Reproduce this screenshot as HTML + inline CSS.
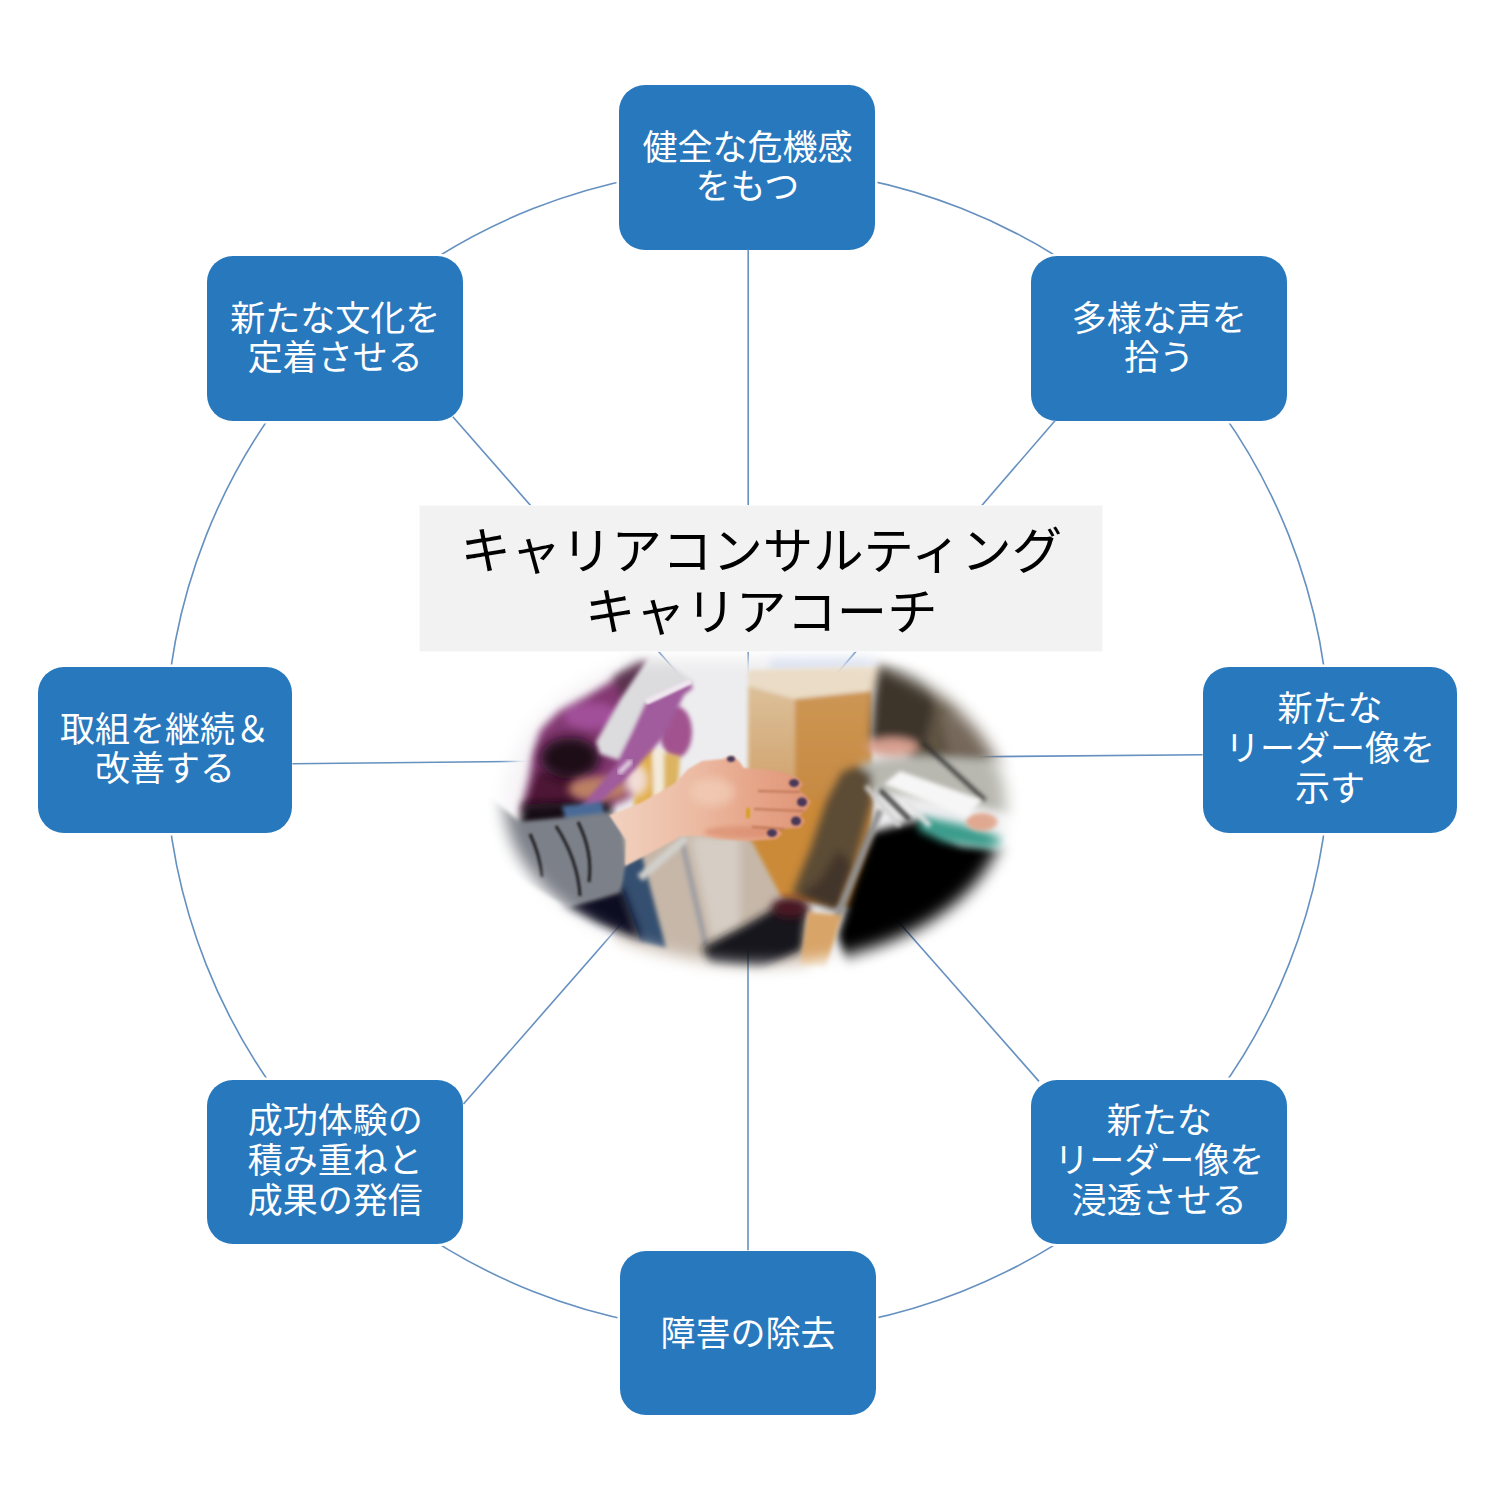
<!DOCTYPE html>
<html lang="ja">
<head>
<meta charset="utf-8">
<title>キャリアコンサルティング キャリアコーチ</title>
<style>
html,body{margin:0;padding:0;background:#fff;}
body{width:1500px;height:1500px;position:relative;overflow:hidden;font-family:"Liberation Sans","Noto Sans CJK JP",sans-serif;}
svg{position:absolute;left:0;top:0;}
.box{position:absolute;width:256px;height:164.6px;border-radius:26px;background:#2878be;color:#fff;box-shadow:0 0 0 2.5px #fff;
 display:flex;align-items:center;justify-content:center;text-align:center;font-size:35px;line-height:39.2px;white-space:nowrap;}
.bw{width:254.8px;height:165.4px;}
.l3{line-height:40.3px !important;}
.box span{display:block;position:relative;top:-0.6px;}
#label{position:absolute;left:420.2px;top:506.4px;width:682.2px;height:144.8px;background:#f2f2f2;color:#000;
 display:flex;align-items:center;justify-content:center;text-align:center;font-size:50.4px;line-height:61.5px;white-space:nowrap;box-shadow:0 0 0 1px rgba(250,250,250,.9);}
#label span{display:block;position:relative;top:3.6px;}
</style>
</head>
<body>
<svg id="ring" width="1500" height="1500" viewBox="0 0 1500 1500">
 <circle cx="747.5" cy="750" r="582.3" fill="none" stroke="#6590c0" stroke-width="1.6"/>
</svg>
<div class="box" style="left:619.4px;top:85.2px"><span>健全な危機感<br>をもつ</span></div>
<div class="box" style="left:1031.2px;top:256px"><span>多様な声を<br>拾う</span></div>
<div class="box bw l3" style="left:1202.6px;top:667.2px"><span>新たな<br>リーダー像を<br>示す</span></div>
<div class="box l3" style="left:1031.2px;top:1079.6px"><span>新たな<br>リーダー像を<br>浸透させる</span></div>
<div class="box" style="left:619.9px;top:1250.8px"><span style="top:0.4px">障害の除去</span></div>
<div class="box l3" style="left:207.3px;top:1079.5px"><span>成功体験の<br>積み重ねと<br>成果の発信</span></div>
<div class="box bw" style="left:37.6px;top:667.2px"><span>取組を継続＆<br>改善する</span></div>
<div class="box" style="left:207.3px;top:256.2px"><span>新たな文化を<br>定着させる</span></div>
<svg id="spokes" width="1500" height="1500" viewBox="0 0 1500 1500">
 <g fill="none" stroke="#6590c0" stroke-width="1.6">
  <line x1="748.2" y1="249.6" x2="748.2" y2="760"/>
  <line x1="748" y1="760" x2="748" y2="1250.3"/>
  <line x1="292.4" y1="763.7" x2="600" y2="760.6"/>
  <line x1="1202.6" y1="754.7" x2="930" y2="757.2"/>
  <line x1="452.8" y1="416.8" x2="700" y2="698.8"/>
  <line x1="1055.2" y1="420.4" x2="810" y2="704.8"/>
  <line x1="463.5" y1="1104" x2="650" y2="890.7"/>
  <line x1="1039" y1="1081.4" x2="870" y2="889.5"/>
 </g>
</svg>
<svg id="photo" width="1500" height="1500" viewBox="0 0 1500 1500">
 <defs>
  <filter id="b1" x="-20%" y="-20%" width="140%" height="140%"><feGaussianBlur stdDeviation="1.1"/></filter>
  <filter id="b2" x="-30%" y="-30%" width="160%" height="160%"><feGaussianBlur stdDeviation="2.2"/></filter>
  <filter id="b4" x="-40%" y="-40%" width="180%" height="180%"><feGaussianBlur stdDeviation="4"/></filter>
  <filter id="b8" x="-60%" y="-60%" width="220%" height="220%"><feGaussianBlur stdDeviation="6"/></filter>
  <filter id="bm" x="-20%" y="-20%" width="140%" height="140%"><feGaussianBlur stdDeviation="8"/></filter>
  <clipPath id="topcut"><rect x="450" y="659" width="620" height="400"/></clipPath>
  <mask id="oval" maskUnits="userSpaceOnUse" x="450" y="600" width="620" height="420">
   <g filter="url(#bm)"><g clip-path="url(#topcut)"><ellipse cx="755" cy="803" rx="251" ry="162" fill="#fff" transform="rotate(1.2 755 803)"/></g></g>
  </mask>
  <linearGradient id="wood" x1="0" y1="0" x2="0" y2="1">
   <stop offset="0" stop-color="#cd9654"/><stop offset="1" stop-color="#c07e30"/>
  </linearGradient>
  <linearGradient id="woodL" x1="0" y1="0" x2="0" y2="1">
   <stop offset="0" stop-color="#dcc09a"/><stop offset="0.6" stop-color="#d2a672"/><stop offset="1" stop-color="#cd9246"/>
  </linearGradient>
  <linearGradient id="skin" x1="0" y1="0" x2="1" y2="0">
   <stop offset="0" stop-color="#f2d2c0"/><stop offset="0.4" stop-color="#ecbca4"/><stop offset="0.7" stop-color="#e6a68a"/><stop offset="1" stop-color="#df9476"/>
  </linearGradient>
 </defs>
 <g mask="url(#oval)">
  <!-- background wall -->
  <rect x="470" y="620" width="600" height="380" fill="#ededef"/>
  <rect x="470" y="620" width="150" height="200" fill="#f6f4f6"/>
  <!-- floor -->
  <polygon points="600,836 700,826 810,830 810,990 620,990" fill="#c6b7a9" filter="url(#b4)"/>
  <polygon points="690,836 740,836 740,930 712,940" fill="#d6cdc4" filter="url(#b4)"/>
  <!-- purple person -->
  <g filter="url(#b4)">
   <polygon points="650,658 617,677 588,695 559,710 540,729 533,753 528,782 520,812 600,812 640,792 652,706 654,662" fill="#843872"/>
   <ellipse cx="592" cy="716" rx="28" ry="13" fill="#a2509a"/>
   <polygon points="612,676 640,658 654,664 640,692 622,700" fill="#5a304e"/>
   <polygon points="536,770 575,772 580,812 522,812" fill="#4e1736"/>
  </g>
  <ellipse cx="570" cy="758" rx="30" ry="21" fill="#1a0814" filter="url(#b8)"/>
  <polygon points="524,804 610,800 612,824 518,828" fill="#140a14" filter="url(#b4)"/>
  <!-- clipboard -->
  <polygon points="650,655 660,656 694,682 650,706 624,762 600,754 596,742 620,700" fill="#dcdcde" filter="url(#b2)"/>
  <!-- sleeve right of folder -->
  <ellipse cx="676" cy="732" rx="16" ry="26" fill="#a2528f" filter="url(#b2)"/>
  <!-- yellow chair -->
  <g filter="url(#b2)">
   <polygon points="636,752 652,746 654,806 634,808" fill="#e0ae48"/>
   <polygon points="652,748 664,750 664,802 654,804" fill="#f4ead8"/>
   <polygon points="664,752 680,756 678,790 664,798" fill="#dcb460"/>
  </g>
  <!-- purple person's hand -->
  <ellipse cx="598" cy="789" rx="30" ry="12" fill="#bc8064" filter="url(#b4)"/>
  <ellipse cx="636" cy="780" rx="12" ry="16" fill="#f2dcd6" filter="url(#b4)"/>
  <!-- purple folder -->
  <polygon points="646,703 690,682 693,688 684,695 663,738 634,770 590,813 579,809 616,765 632,733" fill="#a05c9c" filter="url(#b2)"/>
  <line x1="648" y1="701" x2="689" y2="682" stroke="#efe6ef" stroke-width="6" stroke-linecap="round" filter="url(#b1)"/>
  <line x1="620" y1="772" x2="630" y2="762" stroke="#e8dcea" stroke-width="5" stroke-linecap="round" filter="url(#b2)"/>
  <!-- jeans -->
  <polygon points="562,806 602,802 606,818 566,822" fill="#4a6a98" filter="url(#b2)"/>
  <!-- above cabinet -->
  <polygon points="770,652 880,652 880,668 770,670" fill="#d4dcee" filter="url(#b4)"/>
  <!-- cabinet -->
  <g filter="url(#b2)">
   <polygon points="748,670 884,666 874,692 795,699 748,686" fill="#eadcc6"/>
   <polygon points="748,686 795,699 795,840 748,840" fill="url(#woodL)"/>
   <polygon points="795,699 872,691 872,910 795,900" fill="url(#wood)"/>
   <polygon points="748,834 800,800 840,800 802,902 782,898" fill="#cb8a38"/>
  </g>
  <line x1="748" y1="840" x2="748" y2="950" stroke="#5a5048" stroke-width="3" filter="url(#b2)"/>
  <!-- right person -->
  <g filter="url(#b4)">
   <polygon points="874,700 880,660 940,664 990,700 1030,750 1020,768 930,760 870,748" fill="#5e5242"/>
   <polygon points="874,700 880,664 920,668 935,700 925,745 872,742" fill="#3e342a"/>
   <polygon points="940,715 1000,705 1030,760 950,756" fill="#74685a"/>
   <polygon points="862,762 920,756 1000,760 1030,792 1020,816 960,802 880,792 858,782" fill="#b8b8b0"/>
   <polygon points="858,766 872,774 872,802 856,860 840,910 792,894 810,850 826,802 842,772" fill="#5c4c36"/>
   <polygon points="838,850 820,880 798,896 838,912 854,866" fill="#42362a"/>
   <ellipse cx="892" cy="747" rx="26" ry="9" fill="#d8a090"/>
  </g>
  <!-- black area -->
  <polygon points="872,832 920,820 960,845 1030,850 1010,900 920,950 850,975 838,935 855,880" fill="#030303" filter="url(#b4)"/>
  <!-- teal -->
  <polygon points="920,816 960,824 1006,838 1002,850 944,842 918,830" fill="#3a9c8c" filter="url(#b4)"/>
  <ellipse cx="982" cy="822" rx="16" ry="9" fill="#e0a890" filter="url(#b2)"/>
  <!-- chair frame -->
  <line x1="866" y1="786" x2="900" y2="826" stroke="#d0d0d0" stroke-width="5" filter="url(#b2)"/>
  <line x1="880" y1="790" x2="910" y2="820" stroke="#202020" stroke-width="4" filter="url(#b2)"/>
  <line x1="922" y1="742" x2="985" y2="800" stroke="#2a2a2a" stroke-width="3.5" filter="url(#b2)"/>
  <line x1="905" y1="800" x2="930" y2="826" stroke="#e4e4e4" stroke-width="5" filter="url(#b2)"/>
  <!-- paper -->
  <polygon points="900,771 982,800 966,817 884,784" fill="#f6f6f6" filter="url(#b2)"/>
  <!-- chair leg -->
  <line x1="880" y1="810" x2="836" y2="920" stroke="#929292" stroke-width="7" filter="url(#b2)"/>
  <!-- jeans below sleeve / floor objects -->
  <polygon points="622,866 642,856 666,948 640,942 618,896" fill="#34506f" filter="url(#b2)"/>
  <polygon points="560,906 622,888 642,942 598,926" fill="#0a1020" filter="url(#b4)"/>
  <line x1="682" y1="842" x2="706" y2="946" stroke="#9c9ca2" stroke-width="5" filter="url(#b2)"/>
  <line x1="640" y1="878" x2="686" y2="838" stroke="#d2d0cc" stroke-width="8" filter="url(#b2)"/>
  <polygon points="702,948 744,926 782,904 806,908 802,950 762,970 710,966" fill="#15151a" filter="url(#b4)"/>
  <ellipse cx="790" cy="908" rx="18" ry="10" fill="#4a1520" filter="url(#b4)"/>
  <polygon points="808,912 842,915 826,968 800,966" fill="#d8a468" filter="url(#b2)"/>
  <!-- gray sleeve -->
  <polygon points="480,790 520,822 560,818 610,812 623,830 626,860 620,892 566,907 528,884 486,850" fill="#7b8088" filter="url(#b2)"/>
  <g fill="none" stroke="#26262c" stroke-width="3.2" filter="url(#b1)">
   <path d="M530,834 Q540,855 542,877"/>
   <path d="M556,826 Q578,860 580,896"/>
   <path d="M578,822 Q593,852 589,882"/>
  </g>
  <!-- wrist and hand -->
  <path d="M609,815 L640,803 L660,792 L675,783 L688,769 L702,761 L722,759 L732,756 L738,760 L744,768 L762,769 L782,772 L798,778 L803,784 L799,790 L806,796 L811,802 L807,809 L800,815 L805,821 L800,828 L778,829 L782,834 L776,839 L750,841 L720,839 L700,836 L682,836 L652,852 L625,866 L626,840 Z" fill="url(#skin)" filter="url(#b1)"/>
  <ellipse cx="712" cy="792" rx="22" ry="14" fill="#f2cdb8" opacity="0.75" filter="url(#b4)"/>
  <ellipse cx="740" cy="832" rx="36" ry="6" fill="#d8896a" opacity="0.6" filter="url(#b2)"/>
  <g fill="none" stroke="#c07858" stroke-width="2" filter="url(#b1)">
   <path d="M758,791 L800,792"/><path d="M754,809 L804,811"/><path d="M752,827 L784,829"/>
  </g>
  <g fill="#4a3858" filter="url(#b1)">
   <ellipse cx="794" cy="783" rx="5" ry="4"/><ellipse cx="802" cy="802" rx="5" ry="4.5"/>
   <ellipse cx="796" cy="821" rx="5" ry="4.5"/><ellipse cx="772" cy="833" rx="5" ry="4"/>
   <ellipse cx="731" cy="759" rx="4" ry="3"/>
  </g>
  <rect x="746" y="808" width="4" height="10" fill="#d8a020" filter="url(#b1)"/>
 </g>
</svg>

<div id="label"><span>キャリアコンサルティング<br>キャリアコーチ</span></div>
</body>
</html>
